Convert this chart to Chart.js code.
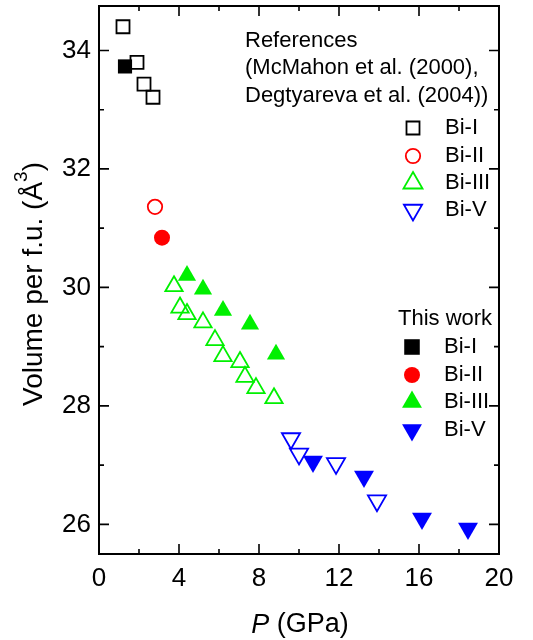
<!DOCTYPE html>
<html>
<head>
<meta charset="utf-8">
<script src="https://cdn.jsdelivr.net/npm/chart.js@4.4.0/dist/chart.umd.min.js"></script>
<style>
  html, body { margin: 0; padding: 0; background: #fff; }
  #wrap { width: 533px; height: 640px; }
</style>
</head>
<body>
<div id="wrap"><canvas id="volumeChart"></canvas></div>
<script>
// --- References (McMahon 2000, Degtyareva 2004): open symbols ---
const refBiI_P = [1.2, 1.9, 2.25, 2.7];
const refBiI_V = [34.40, 33.80, 33.43, 33.21];
const refBiII_P = [2.8];
const refBiII_V = [31.36];
const refBiIII_P = [3.75, 4.05, 4.4, 5.2, 5.8, 6.2, 7.05, 7.3, 7.85, 8.75];
const refBiIII_V = [30.02, 29.66, 29.55, 29.41, 29.11, 28.84, 28.74, 28.49, 28.30, 28.13];
const refBiV_P = [9.6, 10.0, 11.85, 13.9];
const refBiV_V = [27.45, 27.19, 27.03, 26.40];

// --- This work: filled symbols ---
const ourBiI_P = [1.3];
const ourBiI_V = [33.73];
const ourBiII_P = [3.15];
const ourBiII_V = [30.84];
const ourBiIII_P = [4.4, 5.2, 6.2, 7.55, 8.85];
const ourBiIII_V = [30.20, 29.97, 29.61, 29.38, 28.87];
const ourBiV_P = [10.7, 13.25, 16.15, 18.45];
const ourBiV_V = [27.06, 26.81, 26.10, 25.93];

const xTicks = [0, 4, 8, 12, 16, 20];
const xMinor = [2, 6, 10, 14, 18];
const yTicks = [26, 28, 30, 32, 34];
const yMinor = [27, 29, 31, 33];

const phases = ["Bi-I", "Bi-II", "Bi-III", "Bi-V"];
const refNote = ["References", "(McMahon et al. (2000),", "Degtyareva et al. (2004))"];

const FONT = "'Liberation Sans', Arial, Helvetica, sans-serif";
const GREEN = "#00f000";

function pts(xs, ys) {
    return xs.map((x, i) => ({ x: x, y: ys[i] }));
}

// open marker series
function openSet(label, xs, ys, color, style, r, rot) {
    return {
        label: label, data: pts(xs, ys), showLine: false,
        pointStyle: style, pointRadius: r, pointRotation: rot || 0,
        pointBorderWidth: 1.8, pointBorderColor: color,
        pointBackgroundColor: "rgba(0,0,0,0)",
    };
}

// filled marker series
function fillSet(label, xs, ys, color, style, r, rot) {
    return {
        label: label, data: pts(xs, ys), showLine: false,
        pointStyle: style, pointRadius: r, pointRotation: rot || 0,
        pointBorderWidth: 0, pointBorderColor: color,
        pointBackgroundColor: color,
    };
}

// legend marker definitions (style, color, radius, rotation)
const legendOpen = [
    ["rect", "#000", 9.2, 0], ["circle", "red", 7.2, 0],
    ["triangle", GREEN, 11, 0], ["triangle", "blue", 10.5, 180],
];
const legendFilled = [
    ["rect", "#000", 11, 0], ["circle", "red", 8, 0],
    ["triangle", GREEN, 11.5, 0], ["triangle", "blue", 11.5, 180],
];

const framePlugin = {
    id: "frame",
    afterDraw(chart) {
        const ctx = chart.ctx;
        const a = chart.chartArea;
        const xs = chart.scales.x, ys = chart.scales.y;
        ctx.save();
        ctx.strokeStyle = "#000";
        ctx.lineWidth = 2;
        ctx.strokeRect(a.left, a.top, a.right - a.left, a.bottom - a.top);

        // inward ticks on all four sides
        ctx.lineWidth = 1.6;
        ctx.beginPath();
        xTicks.concat(xMinor).forEach(v => {
            const len = xTicks.includes(v) ? 10 : 5;
            const px = xs.getPixelForValue(v);
            ctx.moveTo(px, a.bottom); ctx.lineTo(px, a.bottom - len);
            ctx.moveTo(px, a.top); ctx.lineTo(px, a.top + len);
        });
        yTicks.concat(yMinor).forEach(v => {
            const len = yTicks.includes(v) ? 10 : 5;
            const py = ys.getPixelForValue(v);
            ctx.moveTo(a.left, py); ctx.lineTo(a.left + len, py);
            ctx.moveTo(a.right, py); ctx.lineTo(a.right - len, py);
        });
        ctx.stroke();

        ctx.fillStyle = "#000";
        ctx.textBaseline = "middle";

        // x title: italic P (GPa)
        ctx.font = "italic 27px " + FONT;
        const wP = ctx.measureText("P").width;
        ctx.font = "27px " + FONT;
        const wRest = ctx.measureText(" (GPa)").width;
        let x0 = 300 - (wP + wRest) / 2;
        ctx.textAlign = "left";
        ctx.font = "italic 27px " + FONT;
        ctx.fillText("P", x0, 625);
        ctx.font = "27px " + FONT;
        ctx.fillText(" (GPa)", x0 + wP, 625);

        // y title with superscript
        ctx.save();
        ctx.translate(34, 284);
        ctx.rotate(-Math.PI / 2);
        ctx.font = "28px " + FONT;
        const t1 = "Volume per f.u. (Å", t3 = ")";
        const w1 = ctx.measureText(t1).width, w3 = ctx.measureText(t3).width;
        ctx.font = "19px " + FONT;
        const w2 = ctx.measureText("3").width;
        let sx = -(w1 + w2 + w3) / 2;
        ctx.font = "28px " + FONT;
        ctx.fillText(t1, sx, 0);
        ctx.font = "19px " + FONT;
        ctx.fillText("3", sx + w1, -12);
        ctx.font = "28px " + FONT;
        ctx.fillText(t3, sx + w1 + w2, 0);
        ctx.restore();

        // legend text
        ctx.font = "22px " + FONT;
        ctx.fillText(refNote[0], 245, 41);
        ctx.fillText(refNote[1], 245, 68);
        ctx.fillText(refNote[2], 245, 96);
        ctx.fillText("This work", 398, 319);
        const yOpen = [128, 156, 183, 210];
        const yFilled = [347, 375, 402, 430];
        phases.forEach((p, i) => {
            ctx.fillText(p, 445, yOpen[i]);
            ctx.fillText(p, 444, yFilled[i]);
        });

        // legend markers
        const draw = Chart.helpers.drawPoint;
        legendOpen.forEach((m, i) => {
            ctx.fillStyle = "rgba(0,0,0,0)";
            ctx.strokeStyle = m[1];
            ctx.lineWidth = 1.8;
            draw(ctx, { pointStyle: m[0], radius: m[2], rotation: m[3], borderWidth: 1.8 }, 413, yOpen[i]);
        });
        legendFilled.forEach((m, i) => {
            ctx.fillStyle = m[1];
            draw(ctx, { pointStyle: m[0], radius: m[2], rotation: m[3], borderWidth: 0 }, 412, yFilled[i]);
        });
        ctx.restore();
    },
};

document.addEventListener("DOMContentLoaded", function () {
    const ctxVol = document.getElementById("volumeChart");
    new Chart(ctxVol, {
        type: "scatter",
        data: {
            datasets: [
                openSet("Bi-I ref", refBiI_P, refBiI_V, "#000", "rect", 9.2),
                fillSet("Bi-I", ourBiI_P, ourBiI_V, "#000", "rect", 10),
                openSet("Bi-II ref", refBiII_P, refBiII_V, "red", "circle", 7.2),
                fillSet("Bi-II", ourBiII_P, ourBiII_V, "red", "circle", 8),
                openSet("Bi-III ref", refBiIII_P, refBiIII_V, GREEN, "triangle", 10),
                fillSet("Bi-III", ourBiIII_P, ourBiIII_V, GREEN, "triangle", 10.5),
                openSet("Bi-V ref", refBiV_P, refBiV_V, "blue", "triangle", 10.5, 180),
                fillSet("Bi-V", ourBiV_P, ourBiV_V, "blue", "triangle", 11.5, 180),
            ],
        },
        options: {
            responsive: true,
            maintainAspectRatio: false,
            animation: false,
            layout: { autoPadding: false, padding: { top: 6, right: 34, left: 0, bottom: 0 } },
            plugins: { legend: { display: false }, tooltip: { enabled: false } },
            scales: {
                x: {
                    type: "linear", min: 0, max: 20,
                    grid: { display: false, drawTicks: false }, border: { display: false },
                    afterBuildTicks: s => { s.ticks = xTicks.map(v => ({ value: v })); },
                    afterFit: s => { s.height = 86; s.paddingLeft = 0; s.paddingRight = 0; },
                    ticks: { color: "#000", padding: 9, maxRotation: 0, font: { family: FONT, size: 26 } },
                },
                y: {
                    type: "linear", min: 25.5, max: 34.75,
                    grid: { display: false, drawTicks: false }, border: { display: false },
                    afterBuildTicks: s => { s.ticks = yTicks.map(v => ({ value: v })); },
                    afterFit: s => { s.width = 99; s.paddingTop = 0; s.paddingBottom = 0; },
                    ticks: { color: "#000", padding: 8, font: { family: FONT, size: 26, lineHeight: 0.4 } },
                },
            },
        },
        plugins: [framePlugin],
    });
});
</script>
</body>
</html>
